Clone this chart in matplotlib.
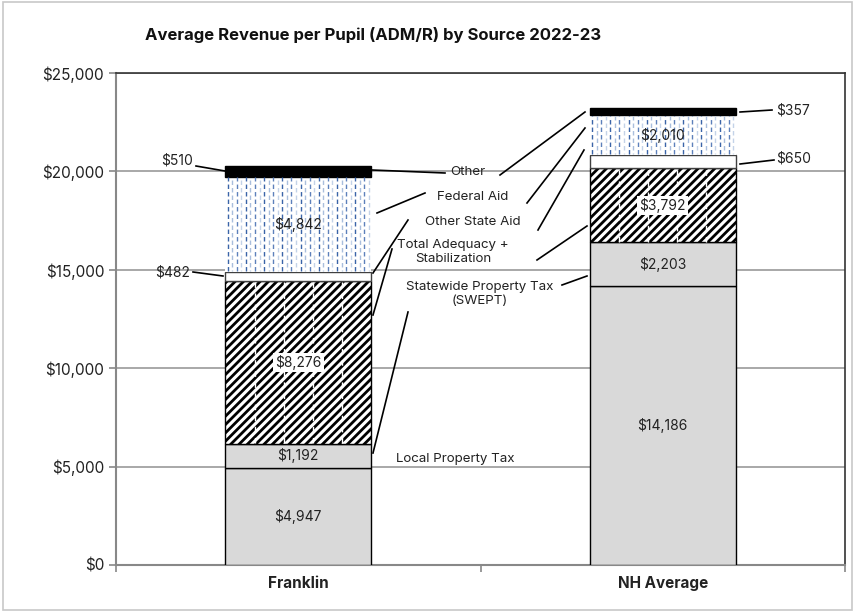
import matplotlib
matplotlib.use("Agg")
import matplotlib.pyplot as plt
import numpy as np

plt.rcParams['font.family'] = ['Inter', 'DejaVu Sans']
plt.rcParams['hatch.linewidth'] = 2.0

categories = ["Franklin", "NH Average"]
sources = ["Other", "Federal Aid", "Other State Aid", "Total Adequacy +\nStabilization",
           "Statewide Property Tax\n(SWEPT)", "Local Property Tax"]
local_tax = [4947, 14186]
swept = [1192, 2203]
adequacy = [8276, 3792]
other_state = [482, 650]
federal = [4842, 2010]
other = [510, 357]
series = [local_tax, swept, adequacy, other_state, federal, other]
yticks = [0, 5000, 10000, 15000, 20000, 25000]
title = "Average Revenue per Pupil (ADM/R) by Source 2022-23"

fig = plt.figure(figsize=(8.56, 6.12), dpi=100)
ax = fig.add_axes([116/856, 1-565/612, 729/856, 492/612])
x = np.arange(len(categories))
w = 0.40

styles = [
    dict(color="#d9d9d9", edgecolor="black", linewidth=1.0),
    dict(color="#d9d9d9", edgecolor="black", linewidth=1.0),
    dict(facecolor="white", edgecolor="black", hatch="////", linewidth=1.0),
    dict(facecolor="white", edgecolor="#404040", linewidth=1.0),
    dict(facecolor="white", edgecolor="white", linewidth=0.0),
    dict(color="black", edgecolor="black", linewidth=1.0),
]
bottoms = np.zeros(len(categories))
containers = []
for vals, st in zip(series, styles):
    c = ax.bar(x, vals, w, bottom=bottoms, zorder=3, **st)
    containers.append((c, bottoms.copy(), np.array(vals)))
    bottoms = bottoms + np.array(vals)

ax.set_xlim(-0.5, 1.5)
ax.set_ylim(0, 25000)

# dashed blue pattern in Federal Aid segments
shades = ["#3a64a8", "#a9bedd", "#5d80bb", "#c3d2e8"]
fed_c = containers[4][0]
for rect in fed_c.patches:
    x0, y0, ww, hh = rect.get_x(), rect.get_y(), rect.get_width(), rect.get_height()
    xs = np.linspace(x0 + ww/64, x0 + ww - ww/64, 32)
    for i, xv in enumerate(xs):
        ax.plot([xv, xv], [y0 + 50, y0 + hh - 40], color=shades[i % 4], lw=1.0,
                ls=(0 if i % 2 == 0 else 2.5, (3.2, 2.2)), zorder=3.5)
# vertical white stripes in the adequacy hatch
ade_c = containers[2][0]
for rect in ade_c.patches:
    x0, y0, ww, hh = rect.get_x(), rect.get_y(), rect.get_width(), rect.get_height()
    for xv in np.linspace(x0, x0 + ww, 6)[1:-1]:
        ax.plot([xv, xv], [y0 + 40, y0 + hh - 40], color="white", lw=1.0, ls=(0, (4, 4)), zorder=3.6)

def fmt(v):
    return f"${v:,.0f}"

for si in [0, 1, 2, 4]:
    c, bot, vals = containers[si]
    for i in range(len(categories)):
        bb = dict(boxstyle="square,pad=0.15", fc="white", ec="none") if si == 2 else None
        ax.text(x[i], bot[i] + vals[i]/2, fmt(vals[i]), ha="center", va="center",
                fontsize=10, color="#222222", zorder=5, bbox=bb)

fig.canvas.draw()
def px2d(px, py):
    inv = ax.transData.inverted()
    return inv.transform((px, 612 - py))

lab_kw = dict(fontsize=10, color="#222222", zorder=6)
small = [
    (fmt(other[0]), 193, 161, "right"),
    (fmt(other_state[0]), 190, 272, "right"),
    (fmt(other[1]), 776, 111, "left"),
    (fmt(other_state[1]), 776, 159, "left"),
]
for txt, px, py, ha in small:
    d = px2d(px, py)
    ax.text(d[0], d[1], txt, ha=ha, va="center", **lab_kw)

pos = [(468, 172), (473, 197), (473, 222), (453, 252), (480, 294), (455, 459)]
for txt, (px, py) in zip(sources, pos):
    d = px2d(px, py)
    ax.text(d[0], d[1], txt, ha="center", va="center", fontsize=9.6, color="#222222",
            zorder=6, linespacing=1.15)

leaders = [
    ((196, 166), (225, 171)),
    ((193, 272), (223, 276)),
    ((740, 112), (772, 110)),
    ((740, 164), (774, 160)),
    ((372, 170), (445, 173)),
    ((500, 175), (585, 112)),
    ((377, 213), (425, 193)),
    ((527, 203), (585, 128)),
    ((373, 273), (408, 220)),
    ((538, 230), (584, 150)),
    ((373, 315), (392, 249)),
    ((537, 260), (587, 226)),
    ((562, 285), (587, 276)),
    ((373, 453), (408, 312)),
]
for (p1, p2) in leaders:
    a = px2d(*p1); b = px2d(*p2)
    ax.plot([a[0], b[0]], [a[1], b[1]], color="black", lw=1.2, zorder=6, clip_on=False)

ax.set_yticks(yticks)
ax.set_yticklabels([fmt(v) for v in yticks], fontsize=11, color="#222222")
ax.set_xticks(x)
ax.set_xticklabels(categories, fontsize=11, fontweight="bold", color="#222222")
ax.tick_params(axis="x", length=0, pad=8)
ax.tick_params(axis="y", length=5, color="#888888", width=1.2)
ax.set_xticks([-0.5, 0.5, 1.5], minor=True)
ax.tick_params(axis="x", which="minor", length=5, color="#888888", width=1.2)
ax.yaxis.grid(True, color="#999999", lw=1.2, zorder=0)
ax.set_axisbelow(True)
for s in ["top", "right"]:
    ax.spines[s].set_color("#333333")
    ax.spines[s].set_linewidth(1.2)
for s in ["left", "bottom"]:
    ax.spines[s].set_color("#888888")
    ax.spines[s].set_linewidth(1.5)

fig.text(145/856, 1-35/612, title, fontsize=12, fontweight="bold", ha="left", va="center", color="#111111")

fig.patches.append(plt.Rectangle((0.003, 0.003), 0.992, 0.994, transform=fig.transFigure,
                                 fill=False, ec="#c8c8c8", lw=1.2))

fig.savefig("out.png", dpi=100)
